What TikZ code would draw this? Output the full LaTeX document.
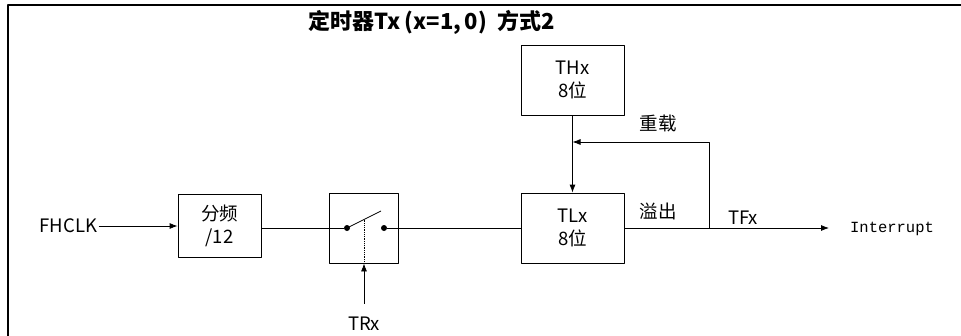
\documentclass[tikz,border=0pt]{standalone}
\usepackage{fontspec}
\setmainfont{Noto Sans CJK SC}
\newfontfamily\intrfont{Liberation Mono}
\usetikzlibrary{positioning,arrows.meta}
\begin{document}
\begin{tikzpicture}[x=1pt,y=-1pt,>={Latex[length=8pt,width=6pt]},font=\fontsize{18.5}{23}\selectfont,line join=round,line width=0.8pt,
	blk/.style={draw,align=center,inner sep=0pt},
	lbl/.style={inner sep=1pt},
	dot/.style={circle,fill,inner sep=0pt,minimum size=6pt}]
	\useasboundingbox (0,0) rectangle (961,335);
	\draw[line width=1.6pt] (8,345) -- (8,5) -- (970,5);
	\node[font=\bfseries\fontsize{22}{26}\selectfont] (title) at (431.5,22) {定时器Tx\,(x=1,\,0)\ \ 方式2};
	% blocks
	\node[lbl] (clk) at (68.5,226) {FHCLK};
	\node[blk,minimum width=83pt,minimum height=63pt] (div) at (219.5,226) {分频\\/12};
	\node[blk,minimum width=69pt,minimum height=70pt] (sw) at (363.5,228) {};
	\node[blk,minimum width=103pt,minimum height=70pt] (thx) at (572.5,80) {THx\\8位};
	\node[blk,minimum width=103pt,minimum height=70pt] (tlx) at (572.5,228) {TLx\\8位};
	\node[lbl] (trx) at (364,324) {TRx};
	\node[lbl,font=\intrfont\fontsize{15.5}{18}\selectfont] (intr) at (892,229) {Interrupt};
	% switch
	\node[dot] (ca) at (347,228) {};
	\node[dot] (cb) at (384,228) {};
	\coordinate (tip) at (381,211);
	\coordinate (mid) at (364,219.5);
	\draw (ca.center) -- (tip);
	\draw[densely dotted] (mid) -- (mid |- sw.south);
	\draw[->] ([yshift=12pt]trx.north) -- (trx |- sw.south);
	% connections
	\draw[->] (clk.east |- div) -- (div);
	\draw (div.east |- ca) -- (ca);
	\draw (cb) -- (tlx);
	\draw[->] (thx) -- (tlx);
	\coordinate (tap) at (709,228);
	\coordinate (turn) at (709,142);
	\coordinate (outend) at (829,228);
	\draw[->] (tlx) -- (outend);
	\draw[->] (tap) -- (turn) -- (turn -| thx);
	\node[lbl] (reload) at (658,123) {重载};
	\node[lbl] (ovf) at (658,211) {溢出};
	\node[lbl] (tfx) at (743,218) {TFx};
\end{tikzpicture}
\end{document}
